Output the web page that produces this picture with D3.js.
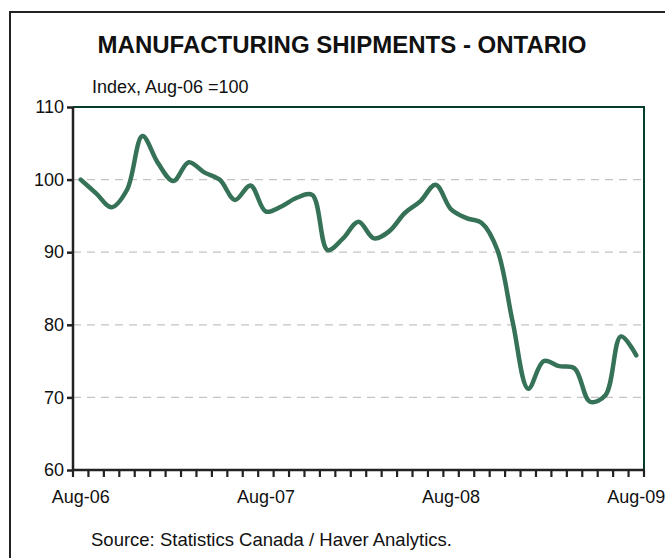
<!DOCTYPE html>
<html>
<head>
<meta charset="utf-8">
<script src="https://cdn.jsdelivr.net/npm/d3@7/dist/d3.min.js"></script>
<style>
  html, body { margin: 0; padding: 0; background: #fff; }
  svg { display: block; font-family: "Liberation Sans", Arial, sans-serif; }
</style>
</head>
<body>
<svg id="chart" width="665" height="558"></svg>
<script>
// Monthly index of Ontario manufacturing shipments, Aug-06 = 100
const months = [
  "Aug-06","Sep-06","Oct-06","Nov-06","Dec-06","Jan-07","Feb-07","Mar-07","Apr-07","May-07","Jun-07","Jul-07",
  "Aug-07","Sep-07","Oct-07","Nov-07","Dec-07","Jan-08","Feb-08","Mar-08","Apr-08","May-08","Jun-08","Jul-08",
  "Aug-08","Sep-08","Oct-08","Nov-08","Dec-08","Jan-09","Feb-09","Mar-09","Apr-09","May-09","Jun-09","Jul-09",
  "Aug-09"
];
const shipments = [
  100.0, 98.1, 96.2, 98.6, 106.0, 102.3, 99.8, 102.4, 101.0, 100.0, 97.2, 99.2,
  95.6, 96.3, 97.5, 97.9, 90.3, 91.9, 94.2, 91.9, 92.9, 95.4, 97.0, 99.3,
  95.9, 94.7, 94.0, 90.3, 80.3, 71.2, 75.0, 74.3, 74.0, 69.4, 70.3, 78.4,
  75.8
];
const yTicks = [60, 70, 80, 90, 100, 110];
const gridValues = [70, 80, 90, 100];
const xLabels = ["Aug-06", "Aug-07", "Aug-08", "Aug-09"];

const svg = d3.select("#chart");
const plot = { left: 73, top: 107, right: 644, bottom: 470 };

// Outer frame (runs off the right and bottom edges)
svg.append("rect")
  .attr("x", 10).attr("y", 12)
  .attr("width", 700).attr("height", 600)
  .attr("fill", "none").attr("stroke", "#222").attr("stroke-width", 2);

svg.append("text")
  .attr("x", 342).attr("y", 53)
  .attr("text-anchor", "middle")
  .attr("font-size", 24).attr("font-weight", "bold").attr("fill", "#111")
  .text("MANUFACTURING SHIPMENTS - ONTARIO");

svg.append("text")
  .attr("x", 92).attr("y", 93)
  .attr("font-size", 18).attr("fill", "#111")
  .text("Index, Aug-06 =100");

svg.append("text")
  .attr("x", 91).attr("y", 546)
  .attr("font-size", 18.5).attr("fill", "#111")
  .text("Source: Statistics Canada / Haver Analytics.");

const x = d3.scaleBand().domain(months).range([plot.left, plot.right]);
const y = d3.scaleLinear().domain([60, 110]).range([plot.bottom, plot.top]);

// Dashed gridlines
svg.append("g").selectAll("line").data(gridValues).join("line")
  .attr("x1", plot.left).attr("x2", plot.right)
  .attr("y1", d => y(d)).attr("y2", d => y(d))
  .attr("stroke", "#c4c4c4").attr("stroke-width", 1.2)
  .attr("stroke-dasharray", "8,6");

// Top and right plot border
svg.append("path")
  .attr("d", `M${plot.left},${y(110)}H${plot.right}V${plot.bottom}`)
  .attr("fill", "none").attr("stroke", "#073d2c").attr("stroke-width", 2);

// Y axis
const yAxis = svg.append("g")
  .attr("transform", `translate(${plot.left},0)`)
  .call(d3.axisLeft(y).tickValues(yTicks).tickSize(6).tickPadding(3).tickFormat(d3.format("d")));
yAxis.select(".domain").attr("stroke", "#222").attr("stroke-width", 2.5).attr("d", `M0,${plot.top}V${plot.bottom}`);
yAxis.selectAll(".tick line").attr("stroke", "#222").attr("stroke-width", 2.5);
yAxis.selectAll(".tick text").attr("font-size", 18).attr("fill", "#111")
  .attr("font-family", "Liberation Sans, Arial, sans-serif");

// X axis: one tick at every month boundary, labels once a year
const bounds = months.map(m => x(m)).concat([plot.right]);
const xg = svg.append("g");
xg.append("line")
  .attr("x1", plot.left - 1).attr("x2", plot.right + 1)
  .attr("y1", plot.bottom).attr("y2", plot.bottom)
  .attr("stroke", "#222").attr("stroke-width", 2.5);
xg.selectAll("line.tk").data(bounds).join("line").attr("class", "tk")
  .attr("x1", d => d).attr("x2", d => d)
  .attr("y1", plot.bottom).attr("y2", plot.bottom + 7)
  .attr("stroke", "#222").attr("stroke-width", 2.2);
xg.selectAll("text").data(xLabels).join("text")
  .attr("x", d => x(d) + x.bandwidth() / 2)
  .attr("y", 503)
  .attr("text-anchor", "middle")
  .attr("font-size", 18).attr("fill", "#111")
  .text(d => d);

// Shipments line
const line = d3.line()
  .x((d, i) => x(months[i]) + x.bandwidth() / 2)
  .y(d => y(d))
  .curve(d3.curveCatmullRom.alpha(0.5));
svg.append("path")
  .datum(shipments)
  .attr("d", line)
  .attr("fill", "none")
  .attr("stroke", "#367257")
  .attr("stroke-width", 4.5)
  .attr("stroke-linejoin", "round")
  .attr("stroke-linecap", "round");
</script>
</body>
</html>
